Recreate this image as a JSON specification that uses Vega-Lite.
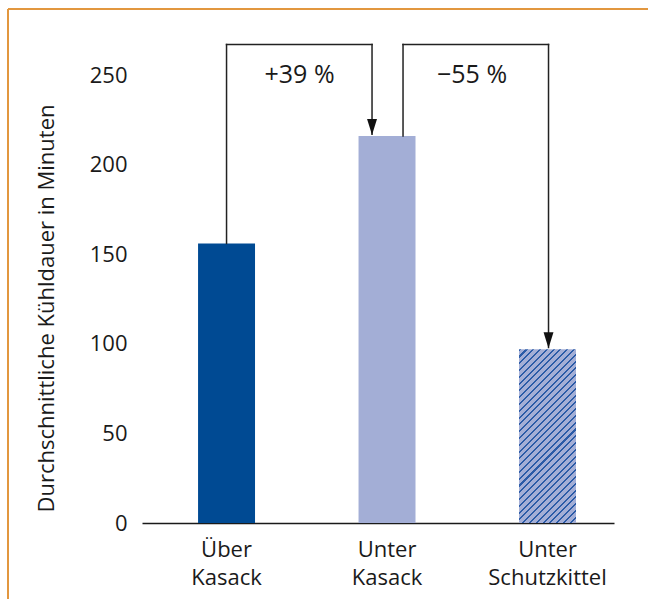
{
  "$schema": "https://vega.github.io/schema/vega-lite/v6.json",
  "width": 640,
  "height": 590,
  "autosize": {"type": "none"},
  "padding": {"left": 8, "top": 9, "right": 0, "bottom": 0},
  "background": "white",
  "config": {
    "font": "Open Sans",
    "view": {"stroke": "#e2973f", "strokeWidth": 2, "strokeDash": [640, 1230, 590, 0]},
    "axis": {"labelFont": "Open Sans", "titleFont": "Open Sans"}
  },
  "datasets": {
    "bars": [
      {"cat": "Über Kasack", "v": 156},
      {"cat": "Unter Kasack", "v": 216},
      {"cat": "Unter Schutzkittel", "v": 97}
    ],
    "upA": [{"cat": "Über Kasack", "v": 156, "v2": 267}],
    "downA": [{"cat": "Unter Kasack", "v": 267, "v2": 217}],
    "upB": [{"cat": "Unter Kasack", "v": 216, "v2": 267}],
    "downB": [{"cat": "Unter Schutzkittel", "v": 267, "v2": 98}],
    "topA": [{"cat": "Über Kasack", "cat2": "Unter Kasack", "v": 267}],
    "topB": [{"cat": "Unter Kasack", "cat2": "Unter Schutzkittel", "v": 267}],
    "headA": [{"cat": "Unter Kasack", "v": 216}],
    "headB": [{"cat": "Unter Schutzkittel", "v": 97}],
    "labA": [{"cat": "Über Kasack", "v": 245.5, "label": "+39 %"}],
    "labB": [{"cat": "Unter Kasack", "v": 245.5, "label": "−55 %"}]
  },
  "encoding": {
    "x": {
      "field": "cat",
      "type": "nominal",
      "sort": null,
      "title": null,
      "scale": {
        "domain": ["Über Kasack", "Unter Kasack", "Unter Schutzkittel"],
        "range": [134, 606],
        "paddingInner": 0.645,
        "paddingOuter": 0.293,
        "align": 0.596
      },
      "axis": {
        "orient": "bottom",
        "offset": -76,
        "domain": true,
        "domainColor": "#1a1a1a",
        "domainWidth": 1.5,
        "ticks": false,
        "tickSize": 0,
        "grid": false,
        "labelAngle": 0,
        "labelExpr": "split(datum.label, ' ')",
        "labelFontSize": 22,
        "labelLineHeight": 28,
        "labelBaseline": "top",
        "labelPadding": 16,
        "labelColor": "#1a1a1a"
      }
    },
    "y": {
      "field": "v",
      "type": "quantitative",
      "title": "Durchschnittliche Kühldauer in Minuten",
      "scale": {"domain": [0, 250], "range": [514, 66], "nice": false, "zero": true},
      "axis": {
        "values": [0, 50, 100, 150, 200, 250],
        "offset": -134,
        "domain": false,
        "ticks": false,
        "tickSize": 0,
        "grid": false,
        "labelPadding": 15,
        "labelFontSize": 22,
        "labelColor": "#1a1a1a",
        "titleFontSize": 22,
        "titleFontWeight": "normal",
        "titleColor": "#1a1a1a",
        "titleAngle": -90,
        "titleAlign": "center",
        "titleBaseline": "middle",
        "titleX": -96,
        "titleY": 299
      }
    }
  },
  "layer": [
    {
      "data": {"name": "bars"},
      "transform": [{"filter": "datum.cat !== 'Unter Schutzkittel'"}],
      "mark": {"type": "bar"},
      "encoding": {
        "color": {
          "field": "cat",
          "type": "nominal",
          "scale": {"domain": ["Über Kasack", "Unter Kasack"], "range": ["#004a93", "#a3aed6"]},
          "legend": null
        }
      }
    },
    {
      "data": {"name": "bars"},
      "transform": [{"filter": "datum.cat === 'Unter Schutzkittel'"}],
      "mark": {
        "type": "bar",
        "fill": {
          "gradient": "linear",
          "x1": 0, "y1": 0, "x2": 0.393, "y2": 1.199,
          "stops": [
            {"offset": 0, "color": "#2b5ba7"}, {"offset": 0.0088, "color": "#2b5ba7"}, {"offset": 0.0088, "color": "#a3aed6"}, {"offset": 0.0294, "color": "#a3aed6"},
            {"offset": 0.0294, "color": "#2b5ba7"}, {"offset": 0.0382, "color": "#2b5ba7"}, {"offset": 0.0382, "color": "#a3aed6"}, {"offset": 0.0588, "color": "#a3aed6"},
            {"offset": 0.0588, "color": "#2b5ba7"}, {"offset": 0.0676, "color": "#2b5ba7"}, {"offset": 0.0676, "color": "#a3aed6"}, {"offset": 0.0882, "color": "#a3aed6"},
            {"offset": 0.0882, "color": "#2b5ba7"}, {"offset": 0.0971, "color": "#2b5ba7"}, {"offset": 0.0971, "color": "#a3aed6"}, {"offset": 0.1176, "color": "#a3aed6"},
            {"offset": 0.1176, "color": "#2b5ba7"}, {"offset": 0.1265, "color": "#2b5ba7"}, {"offset": 0.1265, "color": "#a3aed6"}, {"offset": 0.1471, "color": "#a3aed6"},
            {"offset": 0.1471, "color": "#2b5ba7"}, {"offset": 0.1559, "color": "#2b5ba7"}, {"offset": 0.1559, "color": "#a3aed6"}, {"offset": 0.1765, "color": "#a3aed6"},
            {"offset": 0.1765, "color": "#2b5ba7"}, {"offset": 0.1853, "color": "#2b5ba7"}, {"offset": 0.1853, "color": "#a3aed6"}, {"offset": 0.2059, "color": "#a3aed6"},
            {"offset": 0.2059, "color": "#2b5ba7"}, {"offset": 0.2147, "color": "#2b5ba7"}, {"offset": 0.2147, "color": "#a3aed6"}, {"offset": 0.2353, "color": "#a3aed6"},
            {"offset": 0.2353, "color": "#2b5ba7"}, {"offset": 0.2441, "color": "#2b5ba7"}, {"offset": 0.2441, "color": "#a3aed6"}, {"offset": 0.2647, "color": "#a3aed6"},
            {"offset": 0.2647, "color": "#2b5ba7"}, {"offset": 0.2735, "color": "#2b5ba7"}, {"offset": 0.2735, "color": "#a3aed6"}, {"offset": 0.2941, "color": "#a3aed6"},
            {"offset": 0.2941, "color": "#2b5ba7"}, {"offset": 0.3029, "color": "#2b5ba7"}, {"offset": 0.3029, "color": "#a3aed6"}, {"offset": 0.3235, "color": "#a3aed6"},
            {"offset": 0.3235, "color": "#2b5ba7"}, {"offset": 0.3324, "color": "#2b5ba7"}, {"offset": 0.3324, "color": "#a3aed6"}, {"offset": 0.3529, "color": "#a3aed6"},
            {"offset": 0.3529, "color": "#2b5ba7"}, {"offset": 0.3618, "color": "#2b5ba7"}, {"offset": 0.3618, "color": "#a3aed6"}, {"offset": 0.3824, "color": "#a3aed6"},
            {"offset": 0.3824, "color": "#2b5ba7"}, {"offset": 0.3912, "color": "#2b5ba7"}, {"offset": 0.3912, "color": "#a3aed6"}, {"offset": 0.4118, "color": "#a3aed6"},
            {"offset": 0.4118, "color": "#2b5ba7"}, {"offset": 0.4206, "color": "#2b5ba7"}, {"offset": 0.4206, "color": "#a3aed6"}, {"offset": 0.4412, "color": "#a3aed6"},
            {"offset": 0.4412, "color": "#2b5ba7"}, {"offset": 0.45, "color": "#2b5ba7"}, {"offset": 0.45, "color": "#a3aed6"}, {"offset": 0.4706, "color": "#a3aed6"},
            {"offset": 0.4706, "color": "#2b5ba7"}, {"offset": 0.4794, "color": "#2b5ba7"}, {"offset": 0.4794, "color": "#a3aed6"}, {"offset": 0.5, "color": "#a3aed6"},
            {"offset": 0.5, "color": "#2b5ba7"}, {"offset": 0.5088, "color": "#2b5ba7"}, {"offset": 0.5088, "color": "#a3aed6"}, {"offset": 0.5294, "color": "#a3aed6"},
            {"offset": 0.5294, "color": "#2b5ba7"}, {"offset": 0.5382, "color": "#2b5ba7"}, {"offset": 0.5382, "color": "#a3aed6"}, {"offset": 0.5588, "color": "#a3aed6"},
            {"offset": 0.5588, "color": "#2b5ba7"}, {"offset": 0.5676, "color": "#2b5ba7"}, {"offset": 0.5676, "color": "#a3aed6"}, {"offset": 0.5882, "color": "#a3aed6"},
            {"offset": 0.5882, "color": "#2b5ba7"}, {"offset": 0.5971, "color": "#2b5ba7"}, {"offset": 0.5971, "color": "#a3aed6"}, {"offset": 0.6176, "color": "#a3aed6"},
            {"offset": 0.6176, "color": "#2b5ba7"}, {"offset": 0.6265, "color": "#2b5ba7"}, {"offset": 0.6265, "color": "#a3aed6"}, {"offset": 0.6471, "color": "#a3aed6"},
            {"offset": 0.6471, "color": "#2b5ba7"}, {"offset": 0.6559, "color": "#2b5ba7"}, {"offset": 0.6559, "color": "#a3aed6"}, {"offset": 0.6765, "color": "#a3aed6"},
            {"offset": 0.6765, "color": "#2b5ba7"}, {"offset": 0.6853, "color": "#2b5ba7"}, {"offset": 0.6853, "color": "#a3aed6"}, {"offset": 0.7059, "color": "#a3aed6"},
            {"offset": 0.7059, "color": "#2b5ba7"}, {"offset": 0.7147, "color": "#2b5ba7"}, {"offset": 0.7147, "color": "#a3aed6"}, {"offset": 0.7353, "color": "#a3aed6"},
            {"offset": 0.7353, "color": "#2b5ba7"}, {"offset": 0.7441, "color": "#2b5ba7"}, {"offset": 0.7441, "color": "#a3aed6"}, {"offset": 0.7647, "color": "#a3aed6"},
            {"offset": 0.7647, "color": "#2b5ba7"}, {"offset": 0.7735, "color": "#2b5ba7"}, {"offset": 0.7735, "color": "#a3aed6"}, {"offset": 0.7941, "color": "#a3aed6"},
            {"offset": 0.7941, "color": "#2b5ba7"}, {"offset": 0.8029, "color": "#2b5ba7"}, {"offset": 0.8029, "color": "#a3aed6"}, {"offset": 0.8235, "color": "#a3aed6"},
            {"offset": 0.8235, "color": "#2b5ba7"}, {"offset": 0.8324, "color": "#2b5ba7"}, {"offset": 0.8324, "color": "#a3aed6"}, {"offset": 0.8529, "color": "#a3aed6"},
            {"offset": 0.8529, "color": "#2b5ba7"}, {"offset": 0.8618, "color": "#2b5ba7"}, {"offset": 0.8618, "color": "#a3aed6"}, {"offset": 0.8824, "color": "#a3aed6"},
            {"offset": 0.8824, "color": "#2b5ba7"}, {"offset": 0.8912, "color": "#2b5ba7"}, {"offset": 0.8912, "color": "#a3aed6"}, {"offset": 0.9118, "color": "#a3aed6"},
            {"offset": 0.9118, "color": "#2b5ba7"}, {"offset": 0.9206, "color": "#2b5ba7"}, {"offset": 0.9206, "color": "#a3aed6"}, {"offset": 0.9412, "color": "#a3aed6"},
            {"offset": 0.9412, "color": "#2b5ba7"}, {"offset": 0.95, "color": "#2b5ba7"}, {"offset": 0.95, "color": "#a3aed6"}, {"offset": 0.9706, "color": "#a3aed6"},
            {"offset": 0.9706, "color": "#2b5ba7"}, {"offset": 0.9794, "color": "#2b5ba7"}, {"offset": 0.9794, "color": "#a3aed6"}, {"offset": 1, "color": "#a3aed6"}
          ]
        }
      }
    },
    {
      "data": {"name": "upA"},
      "mark": {"type": "rule", "color": "#222222", "strokeWidth": 1.5, "strokeCap": "square"},
      "encoding": {"y2": {"field": "v2"}}
    },
    {
      "data": {"name": "downA"},
      "mark": {"type": "rule", "color": "#222222", "strokeWidth": 1.5, "strokeCap": "square", "xOffset": -15},
      "encoding": {"y2": {"field": "v2"}}
    },
    {
      "data": {"name": "upB"},
      "mark": {"type": "rule", "color": "#222222", "strokeWidth": 1.5, "strokeCap": "square", "xOffset": 16},
      "encoding": {"y2": {"field": "v2"}}
    },
    {
      "data": {"name": "downB"},
      "mark": {"type": "rule", "color": "#222222", "strokeWidth": 1.5, "strokeCap": "square", "xOffset": 1},
      "encoding": {"y2": {"field": "v2"}}
    },
    {
      "data": {"name": "topA"},
      "mark": {"type": "rule", "color": "#222222", "strokeWidth": 1.5, "strokeCap": "square", "xOffset": 0, "x2Offset": -15},
      "encoding": {"x2": {"field": "cat2"}}
    },
    {
      "data": {"name": "topB"},
      "mark": {"type": "rule", "color": "#222222", "strokeWidth": 1.5, "strokeCap": "square", "xOffset": 16, "x2Offset": 1},
      "encoding": {"x2": {"field": "cat2"}}
    },
    {
      "data": {"name": "headA"},
      "mark": {"type": "point", "shape": "M-0.62,-1L0.62,-1L0,1Z", "size": 256, "filled": true, "color": "#111111", "opacity": 1, "xOffset": -15, "yOffset": -9}
    },
    {
      "data": {"name": "headB"},
      "mark": {"type": "point", "shape": "M-0.62,-1L0.62,-1L0,1Z", "size": 256, "filled": true, "color": "#111111", "opacity": 1, "xOffset": 1, "yOffset": -9}
    },
    {
      "data": {"name": "labA"},
      "mark": {"type": "text", "fontSize": 25, "align": "center", "baseline": "alphabetic", "dx": 73, "color": "#1a1a1a"},
      "encoding": {"text": {"field": "label"}}
    },
    {
      "data": {"name": "labB"},
      "mark": {"type": "text", "fontSize": 25, "align": "center", "baseline": "alphabetic", "dx": 85, "color": "#1a1a1a"},
      "encoding": {"text": {"field": "label"}}
    }
  ]
}
